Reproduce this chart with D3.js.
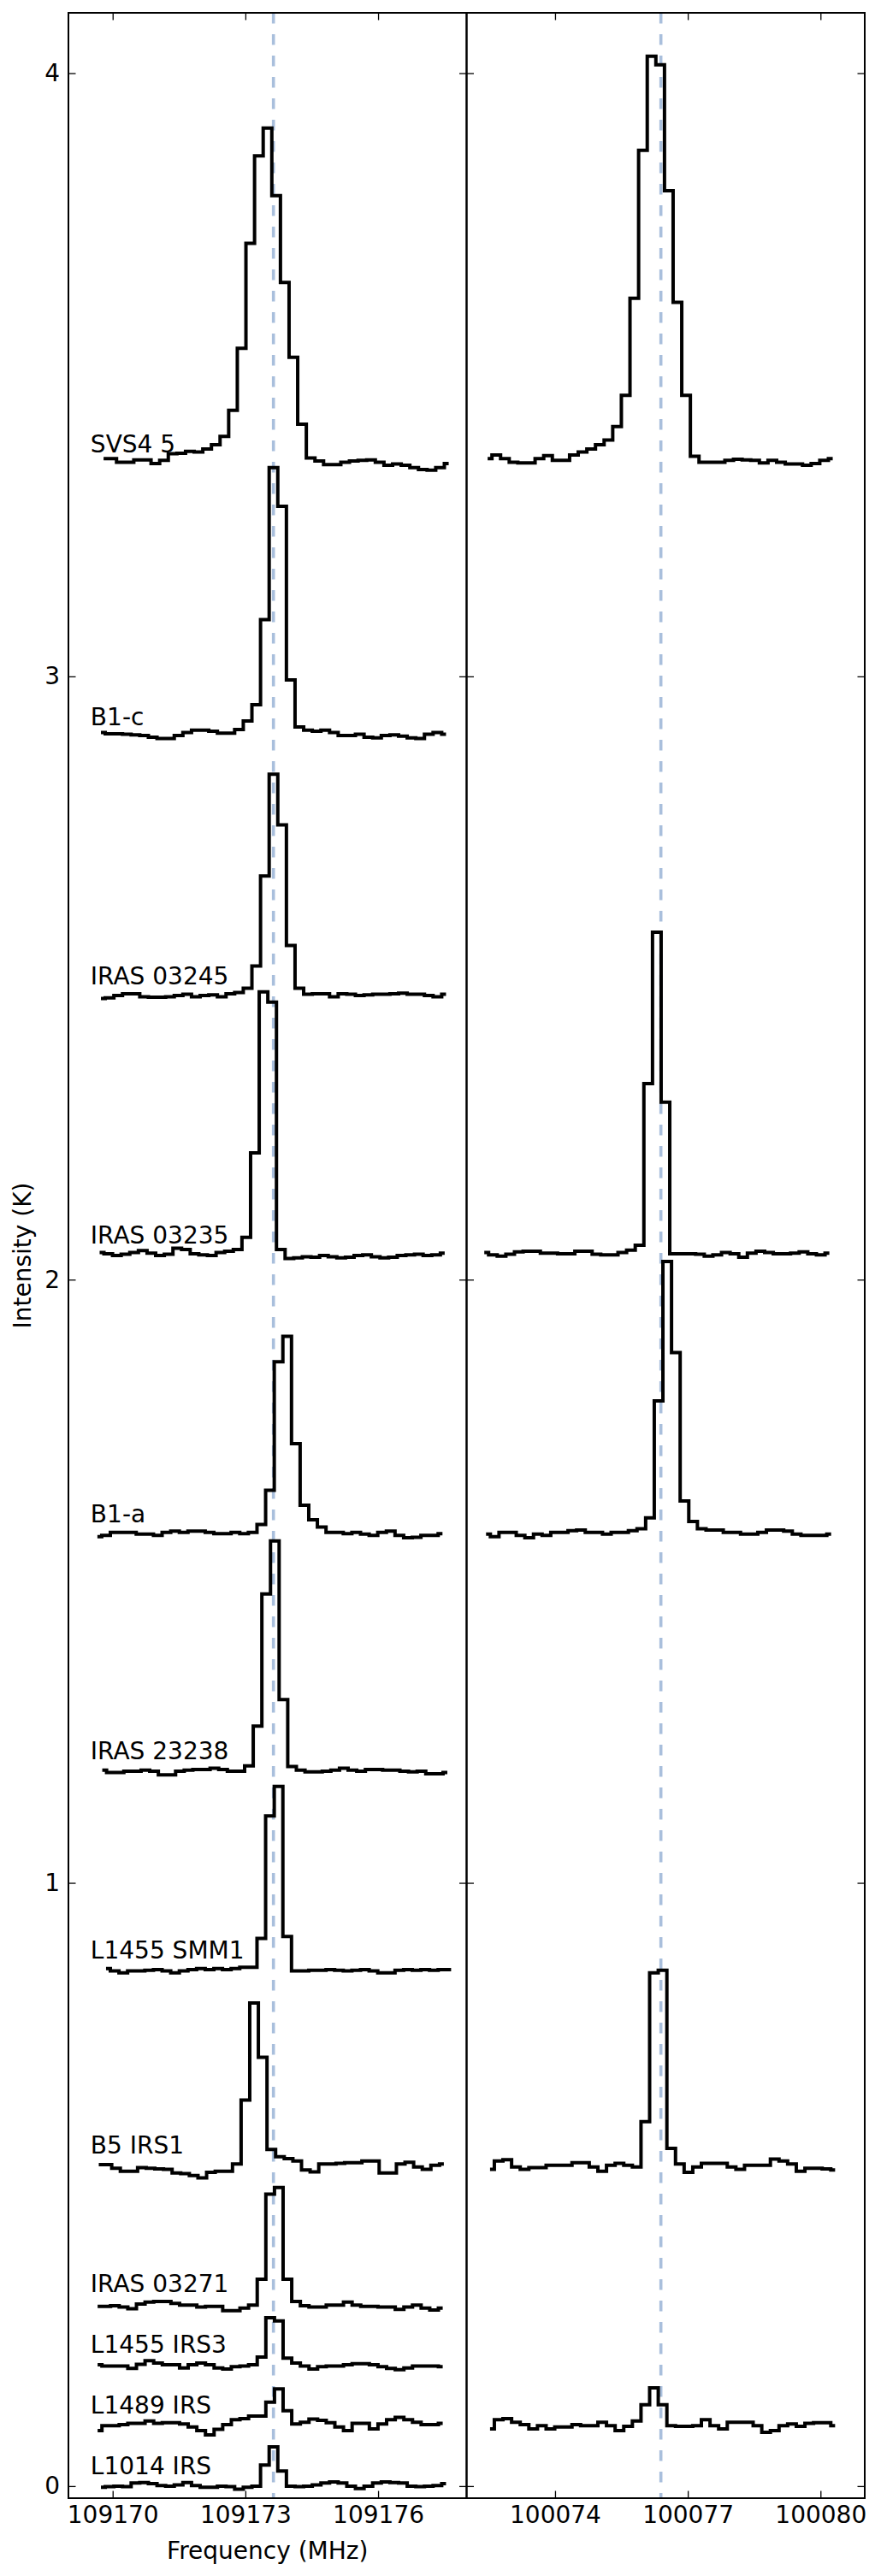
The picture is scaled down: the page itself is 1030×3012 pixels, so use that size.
<!DOCTYPE html>
<html><head><meta charset="utf-8">
<script src="https://cdn.jsdelivr.net/npm/d3@7"></script>
<style>
body{margin:0;background:#fff}
svg{display:block}
text{font-family:"DejaVu Sans",sans-serif;fill:#000}
</style>
</head><body>
<svg id="chart" width="1030" height="3012"></svg>
<script>
// ---------- data ----------
const sources = ["SVS4 5","B1-c","IRAS 03245","IRAS 03235","B1-a","IRAS 23238","L1455 SMM1","B5 IRS1","IRAS 03271","L1455 IRS3","L1489 IRS","L1014 IRS"];
const labelLevel = [3.371,2.919,2.490,2.060,1.597,1.205,0.875,0.551,0.321,0.221,0.121,0.019];
const chanWidth = 0.195; // MHz
const leftStart  = [109169.795,109169.735,109169.735,109169.705,109169.655,109169.765,109169.85,109169.686,109169.66,109169.66,109169.66,109169.735];
const rightSources = ["SVS4 5","IRAS 03235","B1-a","B5 IRS1","L1489 IRS"];
const rightStart = [100072.476,100072.40,100072.44,100072.53,100072.53];
const leftTicks = [109170,109173,109176];
const rightTicks = [100074,100077,100080];
const yTicks = [0,1,2,3,4];
const restLeft = 109173.634, restRight = 100076.392;

// HC3N 12-11 spectra (left panel)
const svs45_L = [3.361,3.361,3.355,3.355,3.359,3.359,3.353,3.358,3.369,3.370,3.373,3.372,3.377,3.384,3.398,3.441,3.544,3.718,3.863,3.909,3.797,3.653,3.529,3.418,3.362,3.357,3.351,3.351,3.355,3.357,3.358,3.359,3.355,3.350,3.352,3.350,3.346,3.343,3.342,3.346,3.353];
const b1c_L = [2.907,2.905,2.905,2.904,2.903,2.902,2.899,2.897,2.897,2.902,2.907,2.911,2.911,2.909,2.906,2.906,2.912,2.926,2.953,3.094,3.346,3.282,2.994,2.916,2.911,2.909,2.911,2.907,2.902,2.902,2.904,2.899,2.898,2.902,2.903,2.901,2.898,2.897,2.904,2.907,2.904];
const iras03245_L = [2.466,2.467,2.471,2.474,2.474,2.469,2.468,2.468,2.469,2.471,2.473,2.469,2.471,2.472,2.469,2.474,2.476,2.483,2.520,2.669,2.838,2.754,2.554,2.483,2.473,2.474,2.474,2.469,2.474,2.473,2.471,2.472,2.473,2.473,2.474,2.475,2.473,2.473,2.471,2.469,2.473];
const iras03235_L = [2.045,2.043,2.040,2.042,2.045,2.048,2.044,2.040,2.042,2.052,2.050,2.043,2.041,2.040,2.045,2.047,2.050,2.070,2.210,2.477,2.460,2.050,2.035,2.036,2.038,2.037,2.040,2.038,2.036,2.037,2.040,2.041,2.038,2.036,2.037,2.040,2.041,2.042,2.040,2.041,2.044];
const b1a_L = [1.574,1.576,1.581,1.581,1.581,1.578,1.578,1.576,1.581,1.583,1.581,1.583,1.583,1.581,1.579,1.579,1.581,1.579,1.581,1.594,1.651,1.864,1.906,1.728,1.626,1.602,1.590,1.581,1.581,1.579,1.581,1.578,1.576,1.581,1.583,1.576,1.572,1.573,1.576,1.576,1.579];
const iras23238_L = [1.187,1.183,1.183,1.185,1.185,1.187,1.185,1.179,1.179,1.185,1.187,1.188,1.188,1.190,1.188,1.185,1.185,1.194,1.260,1.479,1.567,1.304,1.193,1.187,1.184,1.184,1.185,1.187,1.190,1.187,1.185,1.188,1.188,1.187,1.187,1.185,1.184,1.185,1.181,1.181,1.183];
const l1455smm1_L = [0.858,0.854,0.851,0.854,0.854,0.855,0.856,0.854,0.851,0.854,0.856,0.858,0.856,0.858,0.856,0.858,0.860,0.860,0.908,1.111,1.160,0.911,0.854,0.854,0.855,0.855,0.856,0.855,0.854,0.855,0.856,0.854,0.851,0.851,0.855,0.856,0.855,0.856,0.855,0.856,0.856];
const b5irs1_L = [0.533,0.533,0.527,0.522,0.522,0.528,0.527,0.526,0.525,0.519,0.518,0.515,0.511,0.520,0.522,0.522,0.534,0.640,0.801,0.711,0.558,0.546,0.543,0.539,0.524,0.521,0.534,0.534,0.535,0.536,0.536,0.539,0.539,0.519,0.519,0.534,0.537,0.529,0.525,0.532,0.534];
const iras03271_L = [0.298,0.298,0.299,0.297,0.294,0.302,0.305,0.306,0.306,0.303,0.300,0.300,0.297,0.298,0.298,0.291,0.291,0.295,0.300,0.343,0.484,0.495,0.343,0.306,0.299,0.297,0.297,0.300,0.300,0.305,0.300,0.298,0.298,0.297,0.297,0.293,0.297,0.300,0.295,0.292,0.295];
const l1455irs3_L = [0.201,0.199,0.199,0.199,0.195,0.202,0.208,0.204,0.201,0.201,0.196,0.201,0.204,0.201,0.196,0.194,0.198,0.199,0.201,0.214,0.279,0.274,0.212,0.204,0.199,0.194,0.198,0.199,0.199,0.201,0.203,0.203,0.201,0.198,0.195,0.193,0.196,0.199,0.199,0.199,0.198];
const l1489_L = [0.092,0.100,0.100,0.102,0.104,0.104,0.108,0.104,0.105,0.105,0.103,0.098,0.092,0.085,0.094,0.102,0.110,0.112,0.116,0.116,0.139,0.161,0.125,0.103,0.106,0.111,0.109,0.105,0.098,0.092,0.104,0.104,0.095,0.103,0.110,0.114,0.110,0.106,0.102,0.102,0.104];
const l1014_L = [-0.002,-0.001,0.000,-0.001,0.005,0.006,0.004,0.001,0.000,0.002,0.006,0.001,-0.002,-0.002,0.000,-0.001,-0.005,-0.002,0.000,0.035,0.065,0.025,0.000,-0.001,0.000,0.002,0.005,0.007,0.005,0.000,-0.004,0.000,0.005,0.007,0.006,0.005,0.000,-0.001,0.000,0.001,0.004];

// HC3N 11-10 spectra (right panel)
const svs45_R = [3.361,3.367,3.361,3.355,3.354,3.354,3.361,3.366,3.358,3.358,3.367,3.372,3.377,3.384,3.392,3.414,3.466,3.627,3.872,4.028,4.014,3.805,3.620,3.466,3.365,3.355,3.355,3.355,3.358,3.360,3.359,3.358,3.354,3.358,3.355,3.352,3.352,3.350,3.353,3.358,3.361];
const iras03235_R = [2.045,2.041,2.039,2.042,2.046,2.047,2.047,2.044,2.044,2.043,2.043,2.047,2.047,2.042,2.041,2.041,2.045,2.049,2.057,2.325,2.576,2.294,2.043,2.043,2.043,2.042,2.039,2.041,2.045,2.043,2.037,2.044,2.047,2.045,2.043,2.043,2.044,2.046,2.043,2.041,2.044];
const b1a_R = [1.578,1.574,1.581,1.581,1.576,1.572,1.578,1.576,1.581,1.581,1.584,1.585,1.581,1.581,1.578,1.581,1.581,1.584,1.587,1.605,1.799,2.030,1.879,1.633,1.599,1.587,1.585,1.585,1.581,1.581,1.578,1.578,1.581,1.585,1.585,1.583,1.578,1.576,1.576,1.576,1.578];
const b5irs1_R = [0.525,0.539,0.541,0.529,0.525,0.528,0.528,0.532,0.532,0.532,0.536,0.536,0.529,0.522,0.532,0.535,0.532,0.529,0.604,0.851,0.855,0.560,0.534,0.520,0.529,0.535,0.535,0.535,0.529,0.525,0.532,0.532,0.532,0.542,0.539,0.534,0.522,0.527,0.527,0.526,0.524];
const l1489_R = [0.095,0.110,0.112,0.106,0.102,0.095,0.100,0.095,0.098,0.098,0.102,0.100,0.100,0.106,0.100,0.092,0.099,0.108,0.135,0.163,0.135,0.100,0.099,0.099,0.100,0.110,0.100,0.095,0.106,0.106,0.106,0.100,0.089,0.092,0.100,0.103,0.099,0.104,0.105,0.105,0.100];

const leftValues = [svs45_L,b1c_L,iras03245_L,iras03235_L,b1a_L,iras23238_L,l1455smm1_L,b5irs1_L,iras03271_L,l1455irs3_L,l1489_L,l1014_L];
const rightValues = [svs45_R,iras03235_R,b1a_R,b5irs1_R,l1489_R];

// ---------- layout ----------
const L = 80, M = 545.5, R = 1011, T = 15, B = 2921;
const FS = 28;
const svg = d3.select("#chart");
const y = d3.scaleLinear().domain([-0.02, 4.1]).range([B, T]);
const xL = d3.scaleLinear().domain([109169, 109178]).range([L, M]);
const xR = d3.scaleLinear().domain([100072, 100081]).range([M, R]);

function toPoints(vals, start){ return vals.map((v,i)=>({f: start + i*chanWidth, v})); }

function panel(x, ticks, rest, spectra, showYLabels){
  const g = svg.append("g");
  const x0 = x.range()[0], x1 = x.range()[1];
  // rest-frequency marker
  g.append("line").attr("x1", x(rest)).attr("x2", x(rest)).attr("y1", T).attr("y2", B)
    .attr("stroke", "#a9bfdc").attr("stroke-width", 3.6).attr("stroke-dasharray", "12.5,12.5");
  // spectra
  const line = d3.line().x(d=>x(d.f)).y(d=>y(d.v)).curve(d3.curveStep);
  spectra.forEach(s=>{
    g.append("path").attr("d", line(s)).attr("fill","none").attr("stroke","#000")
      .attr("stroke-width", 4).attr("stroke-linejoin","miter").attr("stroke-linecap","butt");
  });
  // axes (inward ticks)
  const bottom = g.append("g").attr("transform", `translate(0,${B})`)
    .call(d3.axisBottom(x).tickValues(ticks).tickFormat(d3.format("d")).tickSizeInner(-8.5).tickSizeOuter(0).tickPadding(9.6));
  const top = g.append("g").attr("transform", `translate(0,${T})`)
    .call(d3.axisTop(x).tickValues(ticks).tickFormat("").tickSizeInner(-8.5).tickSizeOuter(0));
  const left = g.append("g").attr("transform", `translate(${x0},0)`)
    .call(d3.axisLeft(y).tickValues(yTicks).tickFormat(showYLabels ? d3.format("d") : "").tickSizeInner(-8.5).tickSizeOuter(0).tickPadding(10));
  const right = g.append("g").attr("transform", `translate(${x1},0)`)
    .call(d3.axisRight(y).tickValues(yTicks).tickFormat("").tickSizeInner(-8.5).tickSizeOuter(0));
  [bottom, top, left, right].forEach(a=>{
    a.select(".domain").remove();
    a.selectAll(".tick line").attr("stroke","#000").attr("stroke-width",1.3);
    a.selectAll("text").attr("font-size", FS).attr("font-family","DejaVu Sans");
  });
  // frame
  g.append("rect").attr("x", x0).attr("y", T).attr("width", x1-x0).attr("height", B-T)
    .attr("fill","none").attr("stroke","#000").attr("stroke-width",2);
  return g;
}

const leftSpectra = leftValues.map((vals,i)=>toPoints(vals, leftStart[i]));
const rightSpectra = rightValues.map((vals,i)=>toPoints(vals, rightStart[i]));

const gL = panel(xL, leftTicks, restLeft, leftSpectra, true);
panel(xR, rightTicks, restRight, rightSpectra, false);

// source labels
gL.selectAll("text.src").data(sources).enter().append("text").attr("class","src")
  .attr("x", xL(109169.5)).attr("y", (d,i)=>y(labelLevel[i]))
  .attr("font-size", FS).text(d=>d);

// axis titles
svg.append("text").attr("x", (L+M)/2).attr("y", 2992).attr("text-anchor","middle")
  .attr("font-size", FS).text("Frequency (MHz)");
svg.append("text").attr("transform", `translate(36,${(T+B)/2}) rotate(-90)`).attr("text-anchor","middle")
  .attr("font-size", FS).text("Intensity (K)");
</script>
</body></html>
